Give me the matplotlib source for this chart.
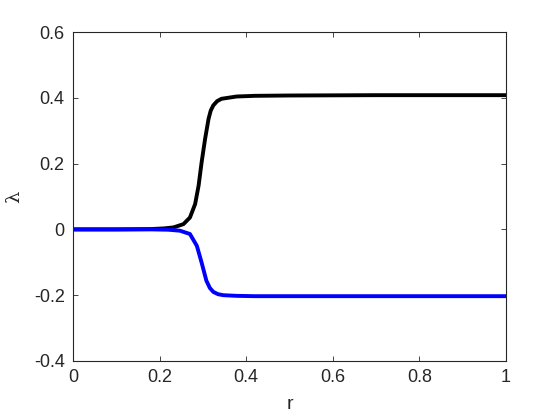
import matplotlib
matplotlib.use("Agg")
from matplotlib import pyplot as plt

# values
r_upper = [0.0, 0.10, 0.18, 0.21, 0.232, 0.255, 0.270, 0.282, 0.290, 0.297, 0.305,
           0.313, 0.318, 0.324, 0.333, 0.343, 0.378, 0.42, 0.50, 0.70, 1.0]
lam_upper = [0.0, 0.0, 0.001, 0.003, 0.006, 0.016, 0.036, 0.077, 0.133, 0.204, 0.275,
             0.336, 0.361, 0.377, 0.390, 0.397, 0.404, 0.406, 0.407, 0.408, 0.408]

r_lower = [0.0, 0.10, 0.18, 0.22, 0.247, 0.270, 0.286, 0.297, 0.308, 0.316, 0.324,
           0.335, 0.347, 0.378, 0.42, 0.50, 0.70, 1.0]
lam_lower = [0.0, 0.0, 0.0, -0.001, -0.004, -0.014, -0.050, -0.101, -0.156, -0.178, -0.190,
             -0.197, -0.200, -0.202, -0.203, -0.203, -0.203, -0.203]

plt.rcParams['font.family'] = ['Liberation Sans', 'DejaVu Sans']

fig = plt.figure(figsize=(5.6, 4.2), dpi=100)
ax = fig.add_axes([0.1304, 0.1405, 0.7732, 0.7833])

ax.plot(r_upper, lam_upper, color='black', linewidth=2.8, solid_joinstyle='round')
ax.plot(r_lower, lam_lower, color='#0000ff', linewidth=2.8, solid_joinstyle='round')

ax.set_xlim(0, 1)
ax.set_ylim(-0.4, 0.6)
ax.set_xticks([0, 0.2, 0.4, 0.6, 0.8, 1])
ax.set_xticklabels(['0', '0.2', '0.4', '0.6', '0.8', '1'])
ax.set_yticks([-0.4, -0.2, 0, 0.2, 0.4, 0.6])
ax.set_yticklabels(['-0.4', '-0.2', '0', '0.2', '0.4', '0.6'])

grey = '#262626'
ax.tick_params(direction='in', top=True, right=True, length=3.5, width=0.6,
               colors=grey, labelsize=13, pad=6)
for s in ax.spines.values():
    s.set_color(grey)
    s.set_linewidth(0.8)

ax.set_xlabel('r', fontsize=14, color=grey, labelpad=7)
ax.set_ylabel('λ', fontsize=14, color=grey, labelpad=8, family=['DejaVu Serif'])

fig.savefig('out.png', dpi=100)
